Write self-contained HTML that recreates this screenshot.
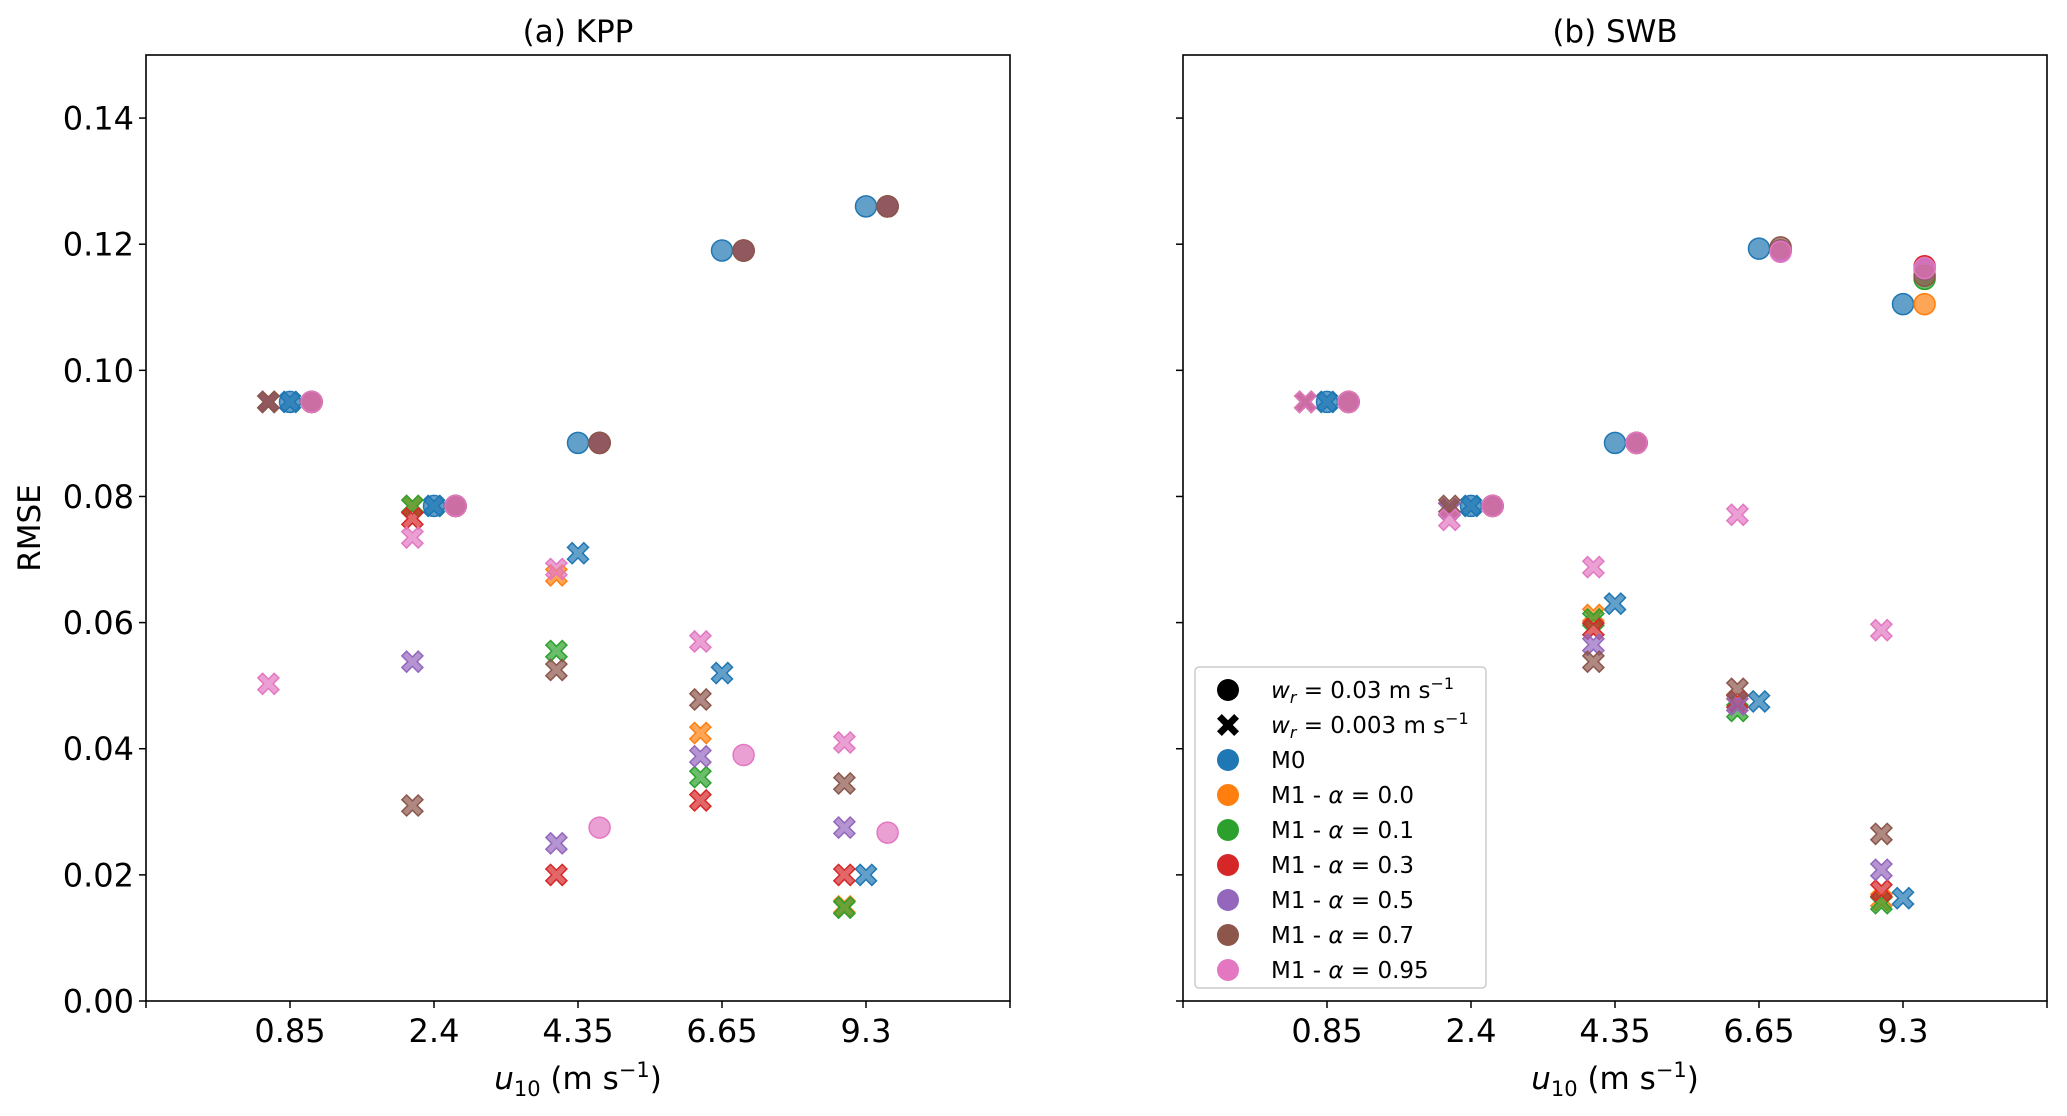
<!DOCTYPE html>
<html><head><meta charset="utf-8"><style>
html,body{margin:0;padding:0;background:#fff;}
svg text{font-family:"DejaVu Sans","Liberation Sans",sans-serif;fill:#000;}
</style></head><body>
<svg id="chart" width="2067" height="1111" xmlns="http://www.w3.org/2000/svg"></svg>
<script>
const categories = ["0.85","2.4","4.35","6.65","9.3"];
const yTicks = [0,0.02,0.04,0.06,0.08,0.10,0.12,0.14];
const seriesNames = ["M0","M1 - α = 0.0","M1 - α = 0.1","M1 - α = 0.3","M1 - α = 0.5","M1 - α = 0.7","M1 - α = 0.95"];
const colors = ["#1f77b4","#ff7f0e","#2ca02c","#d62728","#9467bd","#8c564b","#e377c2"];
const kppCircle = [
 [0.095,0.0785,0.0885,0.119,0.126],
 [0.095,0.0785,0.0885,0.119,0.126],
 [0.095,0.0785,0.0885,0.119,0.126],
 [0.095,0.0785,0.0885,0.119,0.126],
 [0.095,0.0785,0.0885,0.119,0.126],
 [0.095,0.0785,0.0885,0.119,0.126],
 [0.095,0.0785,0.0275,0.039,0.0267]];
const kppCross = [
 [0.095,0.0785,0.071,0.052,0.020],
 [0.095,0.0785,0.0675,0.0425,0.015],
 [0.095,0.0785,0.0555,0.0355,0.0148],
 [0.095,0.0765,0.020,0.0318,0.020],
 [0.095,0.0538,0.025,0.0388,0.0275],
 [0.095,0.031,0.0525,0.0478,0.0345],
 [0.0503,0.0735,0.0685,0.057,0.041]];
const swbCircle = [
 [0.095,0.0785,0.0885,0.1193,0.1105],
 [0.095,0.0785,0.0885,0.119,0.1105],
 [0.095,0.0785,0.0885,0.119,0.1145],
 [0.095,0.0785,0.0885,0.119,0.1165],
 [0.095,0.0785,0.0885,0.119,0.116],
 [0.095,0.0785,0.0885,0.1195,0.115],
 [0.095,0.0785,0.0885,0.1188,0.1162]];
const swbCross = [
 [0.095,0.0785,0.063,0.0475,0.0163],
 [0.095,0.078,0.0612,0.047,0.016],
 [0.095,0.078,0.0605,0.046,0.0155],
 [0.095,0.078,0.059,0.0475,0.0175],
 [0.095,0.078,0.0565,0.047,0.0208],
 [0.095,0.0785,0.0538,0.0495,0.0265],
 [0.095,0.0763,0.0688,0.0771,0.0588]];

const NS="http://www.w3.org/2000/svg";
const svg=document.getElementById('chart');
function mk(tag,attrs,parent){const e=document.createElementNS(NS,tag);for(const k in attrs)e.setAttribute(k,attrs[k]);(parent||svg).appendChild(e);return e;}
const plotTop=55,plotBottom=1001,W=864,yMax=0.15;
function yScale(v){return plotBottom-v/yMax*(plotBottom-plotTop);}
function crossPath(cx,cy,s,w){
  const d=w*0.7071*2, a=s;
  const P=[[0,-d],[a-d,-a],[a,-a+d],[d,0],[a,a-d],[a-d,a],[0,d],[-a+d,a],[-a,a-d],[-d,0],[-a,-a+d],[-a+d,-a]];
  return 'M'+P.map(p=>(cx+p[0]).toFixed(1)+','+(cy+p[1]).toFixed(1)).join('L')+'Z';
}
function panel(left,title,circ,cross,showY,pname){
  const g=mk('g',{});
  
  
  const xScale=i=>left+(i+1)*W/6;
  const t=mk('text',{x:left+W/2,y:42,'font-size':31,'text-anchor':'middle'},g);t.textContent=title;
  
  
  yTicks.forEach(v=>{
    const y=yScale(v);
    const tk=mk('line',{x1:left-7,x2:left,y1:y,y2:y,stroke:'#000','stroke-width':1.5},g);
    
    
    if(showY){const l=mk('text',{x:left-12,y:y+11.5,'font-size':32,'text-anchor':'end'},g);l.textContent=v.toFixed(2);
      
      }
  });
  for(let k=0;k<=6;k++){const x=left+k*W/6;
    const tk=mk('line',{x1:x,x2:x,y1:plotBottom,y2:plotBottom+7,stroke:'#000','stroke-width':1.5},g);
    
    }
  categories.forEach((c,i)=>{const l=mk('text',{x:xScale(i),y:1042,'font-size':32,'text-anchor':'middle'},g);l.textContent=c;
    
    });
  const xl=mk('text',{x:left+W/2,y:1089,'font-size':31,'text-anchor':'middle'},g);
  xl.innerHTML='<tspan font-style="italic">u</tspan><tspan font-size="21" dy="7">10</tspan><tspan dy="-7"> (m s</tspan><tspan font-size="21" dy="-12">−1</tspan><tspan dy="12">)</tspan>';
  
  
  const off=0.15*W/6;
  seriesNames.forEach((n,s)=>{
    categories.forEach((c,i)=>{
      const cxC=xScale(i)+(s==0?0:off), cxX=xScale(i)+(s==0?0:-off);
      const ci=mk('circle',{cx:cxC,cy:yScale(circ[s][i]),r:10.5,fill:colors[s],'fill-opacity':0.7,stroke:colors[s],'stroke-width':1.5},g);
      
      
      const xp=mk('path',{d:crossPath(cxX,yScale(cross[s][i]),10.5,3.3),fill:colors[s],'fill-opacity':0.7,stroke:colors[s],'stroke-width':1.5},g);
      
      
    });
  });
  const fr=mk('rect',{x:left,y:plotTop,width:W,height:plotBottom-plotTop,fill:'none',stroke:'#000','stroke-width':1.6},g);
  
  
}
panel(146,'(a) KPP',kppCircle,kppCross,true,'panel-kpp');
panel(1183,'(b) SWB',swbCircle,swbCross,false,'panel-swb');
const yt=mk('text',{x:0,y:0,'font-size':31,'text-anchor':'middle',transform:'translate(40,528) rotate(-90)'});
yt.textContent='RMSE';



const lg=mk('g',{});


const lb=mk('rect',{x:1195,y:667,width:291,height:321,rx:4,fill:'#fff','fill-opacity':0.8,stroke:'#ccc','stroke-width':1.5},lg);


function row(i){return 690+i*35;}
let e=mk('circle',{cx:1228,cy:row(0),r:11,fill:'#000'},lg);


e=mk('path',{d:crossPath(1228,row(1),11,3.4),fill:'#000'},lg);


let t=mk('text',{x:1271,y:row(0)+8,'font-size':23},lg);
t.innerHTML='<tspan font-style="italic">w</tspan><tspan font-style="italic" font-size="16" dy="5">r</tspan><tspan dy="-5"> = 0.03 m s</tspan><tspan font-size="16" dy="-9">−1</tspan>';


t=mk('text',{x:1271,y:row(1)+8,'font-size':23},lg);
t.innerHTML='<tspan font-style="italic">w</tspan><tspan font-style="italic" font-size="16" dy="5">r</tspan><tspan dy="-5"> = 0.003 m s</tspan><tspan font-size="16" dy="-9">−1</tspan>';


seriesNames.forEach((n,s)=>{
  const m=mk('circle',{cx:1228,cy:row(s+2),r:11,fill:colors[s]},lg);
  
  
  const tx=mk('text',{x:1271,y:row(s+2)+8,'font-size':23},lg);
  if(s==0)tx.textContent=n;else tx.innerHTML='M1 - <tspan font-style="italic">α</tspan> = '+n.split('= ')[1];
  
  
});
</script>
</body></html>
